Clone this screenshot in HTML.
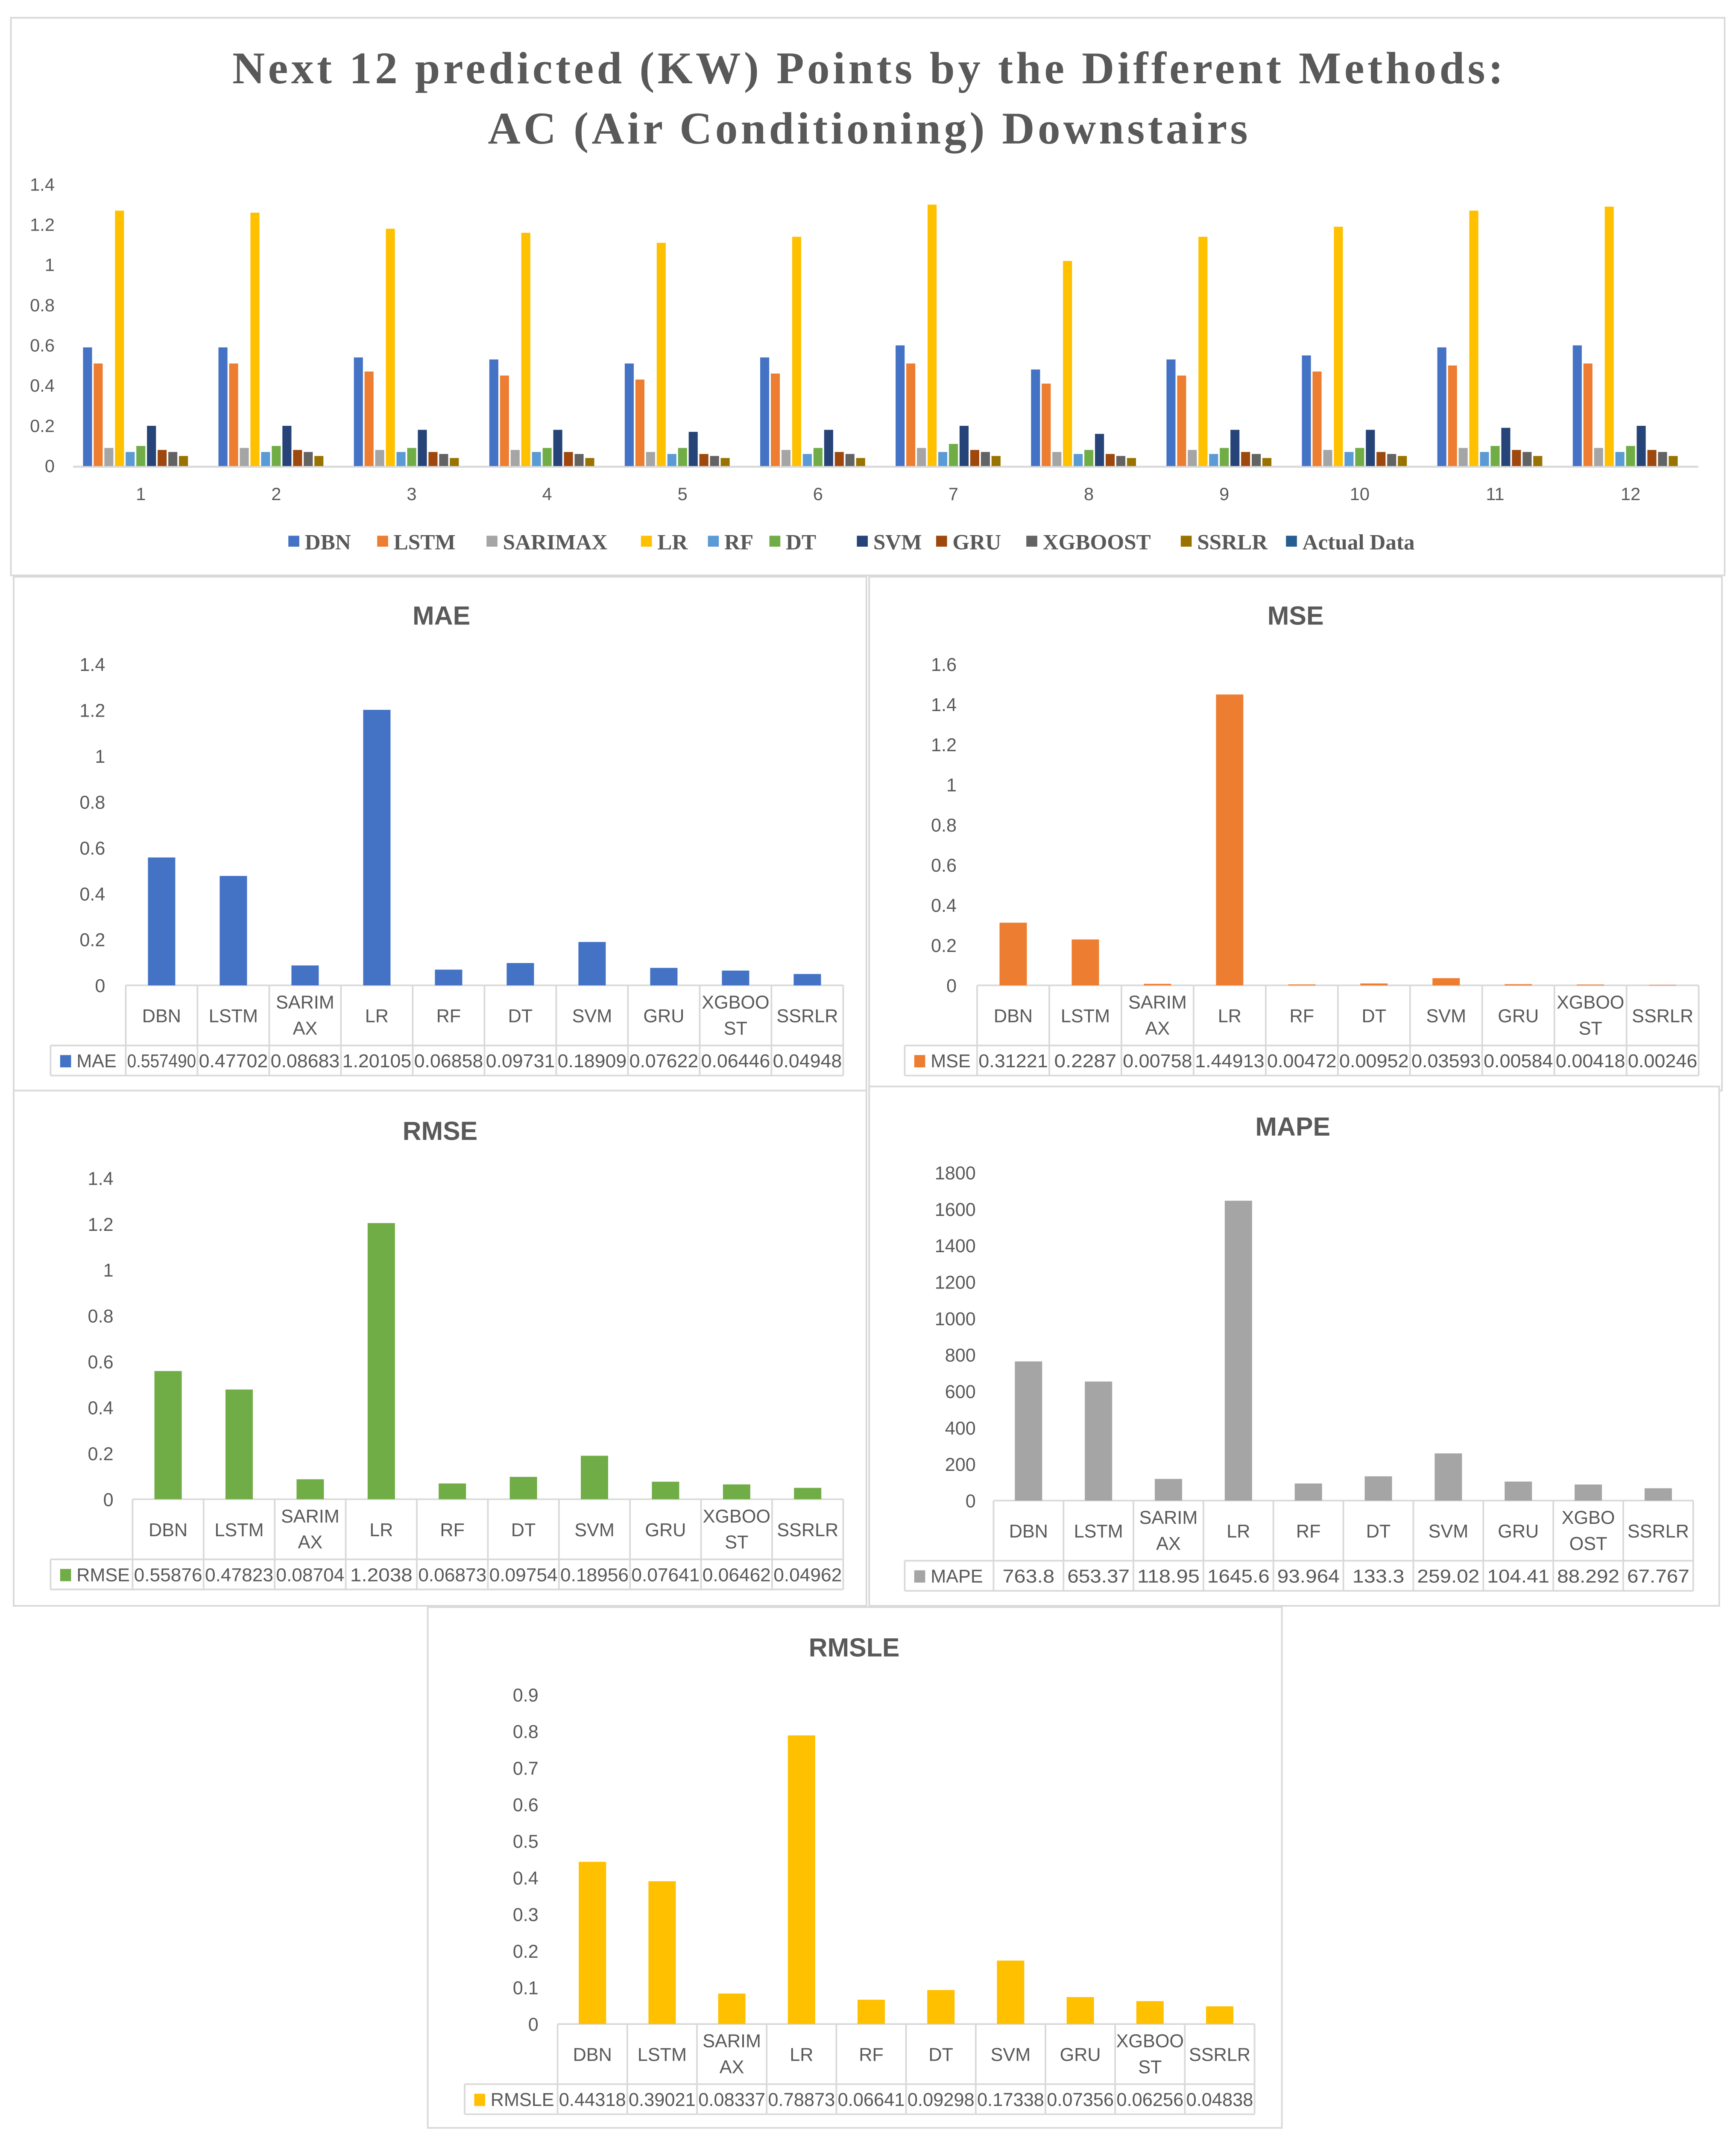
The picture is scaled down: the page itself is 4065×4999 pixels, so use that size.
<!DOCTYPE html>
<html><head><meta charset="utf-8"><style>
html,body{margin:0;padding:0;background:#fff;}
svg{display:block;}
text{font-family:"Liberation Sans",sans-serif;fill:#595959;}
.serif{font-family:"Liberation Serif",serif;}
</style></head><body>
<svg id="root" width="4065" height="4999" viewBox="0 0 1270.3 1562.2" preserveAspectRatio="none" xmlns="http://www.w3.org/2000/svg">
<rect width="1270.3" height="1562.2" fill="#fff"/>
</svg>
<script>
const NS='http://www.w3.org/2000/svg';
const root=document.getElementById('root');
function el(tag,attrs,parent,txt){const e=document.createElementNS(NS,tag);for(const k in attrs)e.setAttribute(k,attrs[k]);if(txt!==undefined)e.textContent=txt;(parent||root).appendChild(e);return e;}

// ---------- Top chart data ----------
const seriesNames=['DBN','LSTM','SARIMAX','LR','RF','DT','SVM','GRU','XGBOOST','SSRLR','Actual Data'];
const seriesColors=['#4472c4','#ed7d31','#a5a5a5','#ffc000','#5b9bd5','#70ad47','#264478','#9e480e','#636363','#997300','#255e91'];
const pointLabels=['1','2','3','4','5','6','7','8','9','10','11','12'];
const topTicks=[0,0.2,0.4,0.6,0.8,1,1.2,1.4];
const topTickLabels=['0','0.2','0.4','0.6','0.8','1','1.2','1.4'];
const sDBN=[0.59,0.59,0.54,0.53,0.51,0.54,0.60,0.48,0.53,0.55,0.59,0.60];
const sLSTM=[0.51,0.51,0.47,0.45,0.43,0.46,0.51,0.41,0.45,0.47,0.50,0.51];
const sSARIMAX=[0.09,0.09,0.08,0.08,0.07,0.08,0.09,0.07,0.08,0.08,0.09,0.09];
const sLR=[1.27,1.26,1.18,1.16,1.11,1.14,1.30,1.02,1.14,1.19,1.27,1.29];
const sRF=[0.07,0.07,0.07,0.07,0.06,0.06,0.07,0.06,0.06,0.07,0.07,0.07];
const sDT=[0.10,0.10,0.09,0.09,0.09,0.09,0.11,0.08,0.09,0.09,0.10,0.10];
const sSVM=[0.20,0.20,0.18,0.18,0.17,0.18,0.20,0.16,0.18,0.18,0.19,0.20];
const sGRU=[0.08,0.08,0.07,0.07,0.06,0.07,0.08,0.06,0.07,0.07,0.08,0.08];
const sXGB=[0.07,0.07,0.06,0.06,0.05,0.06,0.07,0.05,0.06,0.06,0.07,0.07];
const sSSRLR=[0.05,0.05,0.04,0.04,0.04,0.04,0.05,0.04,0.04,0.05,0.05,0.05];
const sActual=[0,0,0,0,0,0,0,0,0,0,0,0];
const topSeries=[sDBN,sLSTM,sSARIMAX,sLR,sRF,sDT,sSVM,sGRU,sXGB,sSSRLR,sActual];

// ---------- Small charts data ----------
const methods=['DBN','LSTM','SARIMAX','LR','RF','DT','SVM','GRU','XGBOOST','SSRLR'];
const maeVals=[0.557490,0.47702,0.08683,1.20105,0.06858,0.09731,0.189090,0.07622,0.06446,0.04948];
const maeLabels=['0.557490','0.47702','0.08683','1.20105','0.06858','0.09731','0.18909','0.07622','0.06446','0.04948'];
const mseVals=[0.31221,0.2287,0.00758,1.44913,0.00472,0.00952,0.03593,0.00584,0.00418,0.00246];
const mseLabels=['0.31221','0.2287','0.00758','1.44913','0.00472','0.00952','0.03593','0.00584','0.00418','0.00246'];
const rmseVals=[0.55876,0.47823,0.08704,1.2038,0.06873,0.09754,0.18956,0.07641,0.06462,0.04962];
const rmseLabels=['0.55876','0.47823','0.08704','1.2038','0.06873','0.09754','0.18956','0.07641','0.06462','0.04962'];
const mapeVals=[763.8,653.37,118.95,1645.6,93.964,133.3,259.02,104.41,88.292,67.767];
const mapeLabels=['763.8','653.37','118.95','1645.6','93.964','133.3','259.02','104.41','88.292','67.767'];
const rmsleVals=[0.44318,0.39021,0.08337,0.78873,0.06641,0.09298,0.17338,0.07356,0.06256,0.04838];
const rmsleLabels=['0.44318','0.39021','0.08337','0.78873','0.06641','0.09298','0.17338','0.07356','0.06256','0.04838'];
const ticks14=[0,0.2,0.4,0.6,0.8,1,1.2,1.4];
const ticks16=[0,0.2,0.4,0.6,0.8,1,1.2,1.4,1.6];
const ticks1800=[0,200,400,600,800,1000,1200,1400,1600,1800];
const ticks09=[0,0.1,0.2,0.3,0.4,0.5,0.6,0.7,0.8,0.9];

// ---------- Top chart ----------
(function(){
  const g=el('g',{});
  
  
  el('rect',{x:8,y:13,width:1254,height:408,fill:'#fff',stroke:'#d9d9d9','stroke-width':1.2},g);
  const t1=el('text',{x:170,y:61,'font-size':33,'font-weight':'bold',class:'serif',textLength:930,lengthAdjust:'spacing'},g,'Next 12 predicted (KW) Points by the Different Methods:');
  
  
  const t2=el('text',{x:357,y:105,'font-size':33,'font-weight':'bold',class:'serif',textLength:556,lengthAdjust:'spacing'},g,'AC (Air Conditioning) Downstairs');
  
  
  const y0=341,yTop=135,vMax=1.4;
  const yS=v=>y0-(v/vMax)*(y0-yTop);
  const x0=53.5,cw=99.1;
  topTicks.forEach((v,i)=>{
    const tx=el('text',{x:40,y:yS(v)+4.5,'text-anchor':'end','font-size':13},g,topTickLabels[i]);
    
    
  });
  el('line',{x1:x0,x2:x0+cw*12,y1:y0+0.5,y2:y0+0.5,stroke:'#d9d9d9','stroke-width':1.5},g);
  const bw=7.8;
  pointLabels.forEach((lab,ci)=>{
    const cx=x0+cw*(ci+0.5);
    const start=cx-bw*seriesNames.length/2;
    topSeries.forEach((s,si)=>{
      const v=s[ci];
      const r=el('rect',{x:start+si*bw+0.6,y:yS(v),width:bw-1.2,height:y0-yS(v),fill:seriesColors[si]},g);
      
      
    });
    const tx=el('text',{x:cx,y:366,'text-anchor':'middle','font-size':13},g,lab);
    
    
  });
  const legX=[211,276,356,469,518,563,627,685,751,864,941];
  seriesNames.forEach((n,i)=>{
    const lg=el('g',{},g);
    
    
    el('rect',{x:legX[i],y:392,width:8,height:8,fill:seriesColors[i]},lg);
    el('text',{x:legX[i]+12,y:402,'font-size':16,'font-weight':'bold',class:'serif'},lg,n);
  });
})();

// ---------- Small chart ----------
function smallChart(o){
  const g=el('g',{});
  
  
  el('rect',{x:o.px,y:o.py,width:o.pw,height:o.ph,fill:'#fff',stroke:'#d9d9d9','stroke-width':1.2},g);
  const t=el('text',{x:o.tx,y:o.ty,'text-anchor':'middle','font-size':19,'font-weight':'bold'},g,o.title);
  
  
  const yS=v=>o.y0-(v/o.vMax)*(o.y0-o.yTop);
  o.ticks.forEach(v=>{
    const tx=el('text',{x:o.labR,y:yS(v)+5,'text-anchor':'end','font-size':13.5},g,String(v));
    
    
  });
  const n=o.vals.length,cw=(o.tR-o.tL)/n;
  const r1=o.y0+44,r2=r1+22;
  const bc='#d9d9d9';
  el('line',{x1:o.tL,x2:o.tR,y1:o.y0,y2:o.y0,stroke:bc,'stroke-width':1.2},g);
  el('line',{x1:o.cL,x2:o.tR,y1:r1,y2:r1,stroke:bc,'stroke-width':1.2},g);
  el('line',{x1:o.cL,x2:o.tR,y1:r2,y2:r2,stroke:bc,'stroke-width':1.2},g);
  el('line',{x1:o.cL,x2:o.cL,y1:r1,y2:r2,stroke:bc,'stroke-width':1.2},g);
  for(let i=0;i<=n;i++){const x=o.tL+i*cw;el('line',{x1:x,x2:x,y1:o.y0,y2:r2,stroke:bc,'stroke-width':1.2},g);}
  const lg=el('g',{},g);
  
  
  el('rect',{x:o.cL+7,y:r1+7,width:8,height:9,fill:o.color},lg);
  el('text',{x:o.cL+19,y:r1+16,'font-size':13.5},lg,o.title);
  o.vals.forEach((v,i)=>{
    const cx=o.tL+cw*(i+0.5);
    const b=el('rect',{x:cx-10,y:yS(v),width:20,height:o.y0-yS(v),fill:o.color},g);
    
    
    const lines=o.catLines[i];
    lines.forEach((ln,k)=>{
      const yy=lines.length===1?o.y0+27:o.y0+17+k*19;
      const tx=el('text',{x:cx,y:yy,'text-anchor':'middle','font-size':13.5},g,ln);
      
      
    });
    const vt=el('text',{x:cx,y:r1+16,'text-anchor':'middle','font-size':13.5,textLength:Math.min(cw-2,o.labels[i].length*7.6),lengthAdjust:'spacingAndGlyphs'},g,o.labels[i]);
    
    
  });
}
const catStd=[['DBN'],['LSTM'],['SARIM','AX'],['LR'],['RF'],['DT'],['SVM'],['GRU'],['XGBOO','ST'],['SSRLR']];
const catMape=[['DBN'],['LSTM'],['SARIM','AX'],['LR'],['RF'],['DT'],['SVM'],['GRU'],['XGBO','OST'],['SSRLR']];
smallChart({name:'mae',title:'MAE',color:'#4472c4',vals:maeVals,labels:maeLabels,ticks:ticks14,vMax:1.4,
  px:10,py:422,pw:624,ph:376,tx:323,ty:457,y0:721,yTop:486,labR:77,cL:37,tL:92,tR:617,catLines:catStd});
smallChart({name:'mse',title:'MSE',color:'#ed7d31',vals:mseVals,labels:mseLabels,ticks:ticks16,vMax:1.6,
  px:636,py:422,pw:624,ph:376,tx:948,ty:457,y0:721,yTop:486,labR:700,cL:662,tL:715,tR:1243,catLines:catStd});
smallChart({name:'rmse',title:'RMSE',color:'#70ad47',vals:rmseVals,labels:rmseLabels,ticks:ticks14,vMax:1.4,
  px:10,py:798,pw:624,ph:377,tx:322,ty:834,y0:1097,yTop:862,labR:83,cL:37,tL:97,tR:617,catLines:catStd});
smallChart({name:'mape',title:'MAPE',color:'#a5a5a5',vals:mapeVals,labels:mapeLabels,ticks:ticks1800,vMax:1800,
  px:636,py:795,pw:622,ph:380,tx:946,ty:831,y0:1098,yTop:858,labR:714,cL:662,tL:727,tR:1239,catLines:catMape});
smallChart({name:'rmsle',title:'RMSLE',color:'#ffc000',vals:rmsleVals,labels:rmsleLabels,ticks:ticks09,vMax:0.9,
  px:313,py:1176,pw:625,ph:381,tx:625,ty:1212,y0:1481,yTop:1240,labR:394,cL:340,tL:408,tR:918,catLines:catStd});
</script>
</body></html>
